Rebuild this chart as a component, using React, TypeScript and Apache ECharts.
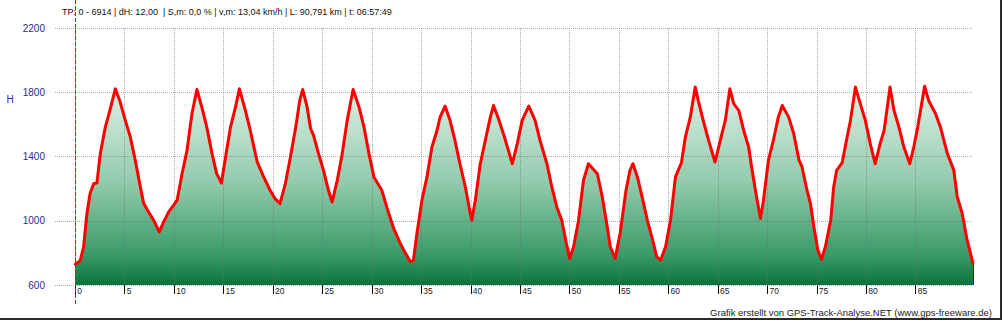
import React, { useEffect, useRef } from 'react';
import * as echarts from 'echarts';

const distanceKm = [
  0, 0.5, 0.84, 1.18, 1.5, 1.86, 2.19, 2.53, 3.04, 3.54, 4.05, 4.49, 5.06, 5.57, 6.07, 6.58, 6.92, 7.42, 7.93, 8.5,
  8.94, 9.45, 9.95, 10.3, 10.8, 11.3, 11.8, 12.3, 12.8, 13.3, 13.83, 14.3, 14.78, 15.2, 15.7, 16.2, 16.6, 17.2, 17.7, 18.4,
  19.05, 19.7, 20.2, 20.7, 21.25, 21.76, 22.3, 22.7, 23.0, 23.45, 23.8, 24.1, 24.6, 25.1, 25.6, 25.98, 26.5, 27.0, 27.5, 28.1,
  28.7, 29.2, 29.7, 30.2, 30.7, 31.0, 31.5, 32.2, 32.87, 33.4, 33.9, 34.2, 34.55, 35.06, 35.57, 36.07, 36.58, 36.9, 37.4, 37.9,
  38.4, 38.9, 39.45, 39.95, 40.1, 40.46, 40.96, 41.47, 41.98, 42.3, 42.8, 43.3, 43.8, 44.2, 44.7, 45.2, 45.86, 46.5, 47.0, 47.7,
  48.2, 48.7, 49.2, 49.6, 50.0, 50.4, 50.9, 51.4, 51.9, 52.8, 53.3, 53.8, 54.1, 54.6, 55.1, 55.7, 56.1, 56.4, 56.85, 57.4,
  57.86, 58.4, 58.8, 59.2, 59.7, 60.2, 60.7, 61.3, 61.7, 62.2, 62.7, 63.0, 63.5, 64.05, 64.7, 65.07, 65.4, 65.74, 66.2, 66.6,
  67.1, 67.6, 68.1, 68.4, 68.9, 69.3, 69.6, 70.1, 70.6, 71.1, 71.5, 72.15, 72.66, 73.2, 73.5, 74.0, 74.35, 74.7, 75.1, 75.46,
  75.86, 76.4, 76.7, 77.0, 77.55, 78.06, 78.4, 78.9, 79.4, 79.9, 80.4, 80.9, 81.4, 81.8, 82.4, 82.8, 83.3, 83.8, 84.4, 84.8,
  85.2, 85.9, 86.3, 87.0, 87.5, 88.2, 88.85, 89.2, 89.7, 90.2, 90.791,
];

const elevationM = [
  730, 751, 838, 1045, 1169, 1231, 1235, 1418, 1583, 1697, 1821, 1749, 1625, 1521, 1376, 1211, 1107, 1055, 1003, 931,
  993, 1055, 1097, 1128, 1293, 1438, 1666, 1817, 1707, 1583, 1418, 1293, 1235, 1397, 1583, 1707, 1821, 1687, 1562, 1366,
  1273, 1190, 1138, 1107, 1231, 1397, 1583, 1749, 1817, 1707, 1573, 1531, 1418, 1314, 1190, 1117, 1252, 1418, 1625, 1817,
  1707, 1583, 1418, 1273, 1221, 1190, 1086, 952, 859, 797, 745, 755, 921, 1128, 1273, 1459, 1562, 1645, 1714, 1625,
  1500, 1355, 1210, 1045, 1003, 1128, 1355, 1500, 1645, 1718, 1635, 1542, 1438, 1355, 1480, 1625, 1714, 1625, 1500, 1355,
  1210, 1086, 1003, 879, 766, 838, 1003, 1252, 1355, 1293, 1148, 962, 838, 766, 921, 1190, 1314, 1355, 1273, 1128,
  1003, 879, 776, 755, 838, 1003, 1273, 1360, 1521, 1645, 1832, 1749, 1625, 1500, 1366, 1459, 1542, 1625, 1821, 1728,
  1687, 1562, 1459, 1335, 1148, 1014, 1128, 1376, 1500, 1645, 1718, 1645, 1542, 1376, 1335, 1190, 1107, 962, 817, 759,
  838, 1003, 1210, 1314, 1360, 1521, 1625, 1832, 1728, 1625, 1480, 1355, 1480, 1562, 1832, 1687, 1583, 1459, 1355, 1459,
  1583, 1838, 1749, 1666, 1583, 1418, 1314, 1148, 1045, 879, 735,
];

const xTickValues = [0, 5, 10, 15, 20, 25, 30, 35, 40, 45, 50, 55, 60, 65, 70, 75, 80, 85];
const yTickValues = [600, 1000, 1400, 1800, 2200];
const headerText = 'TP: 0 - 6914 | dH: 12,00  | S,m: 0,0 % | v,m: 13,04 km/h | L: 90,791 km | t: 06:57:49';
const creditText = 'Grafik erstellt von GPS-Track-Analyse.NET (www.gps-freeware.de)';
const yAxisName = 'H';
const cursorKm = 0;

const FONT = '"Liberation Sans", Arial, sans-serif';

export default function App() {
  const ref = useRef<HTMLDivElement>(null);

  useEffect(() => {
    const chart = echarts.init(ref.current as HTMLDivElement, null, { renderer: 'svg' });
    const data = distanceKm.map((d, i) => [d, elevationM[i]]);
    const lastKm = distanceKm[distanceKm.length - 1];
    const lastElev = elevationM[elevationM.length - 1];
    const yMin = yTickValues[0];
    const yMax = yTickValues[yTickValues.length - 1];

    const gridStyle = { color: 'rgba(110,110,110,0.55)', type: 'dotted', width: 1 };
    const edgeStyle = { color: '#1a2a8a', type: 'solid', width: 1 };

    chart.setOption({
      animation: false,
      backgroundColor: '#ffffff',
      grid: { left: 55, right: 30, top: 28, bottom: 35 },
      xAxis: {
        type: 'value',
        min: -2.05,
        max: lastKm,
        axisLine: { show: false },
        splitLine: { show: false },
        axisTick: { show: true, customValues: xTickValues, length: 9, lineStyle: { color: '#111111', width: 1 } },
        axisLabel: {
          customValues: xTickValues,
          align: 'left',
          margin: 1,
          padding: [0, 0, 0, 2],
          fontSize: 8.5,
          color: '#222222',
          fontFamily: FONT,
        },
      },
      yAxis: {
        type: 'value',
        min: yMin,
        max: yMax,
        axisLine: { show: true, lineStyle: { color: '#9a9a9a', width: 1 } },
        axisTick: { show: false },
        splitLine: { show: false },
        axisLabel: {
          customValues: yTickValues,
          formatter: (v: number) => String(v),
          fontSize: 10,
          color: '#2e2e8c',
          margin: 10,
          fontFamily: FONT,
        },
      },
      series: [
        {
          type: 'line',
          data,
          symbol: 'none',
          silent: true,
          z: 1,
          lineStyle: { width: 0 },
          areaStyle: {
            origin: 'start',
            opacity: 1,
            color: new echarts.graphic.LinearGradient(0, 0, 0, 1, [
              { offset: 0, color: '#e0f2e8' },
              { offset: 0.5, color: '#8fc9aa' },
              { offset: 0.85, color: '#3a9a68' },
              { offset: 1, color: '#0b733c' },
            ]),
          },
          markLine: {
            silent: true,
            z: 3,
            symbol: ['none', 'none'],
            label: { show: false },
            lineStyle: gridStyle,
            data: [
              ...xTickValues.filter((v) => v !== cursorKm).map((v) => ({ xAxis: v })),
              ...yTickValues.map((v) => ({ yAxis: v })),
              [
                { coord: [lastKm, yMin], lineStyle: edgeStyle },
                { coord: [lastKm, lastElev], lineStyle: edgeStyle },
              ],
            ],
          },
        },
        {
          type: 'line',
          data,
          symbol: 'none',
          silent: true,
          z: 10,
          lineStyle: { color: '#ff0000', width: 3, join: 'round', cap: 'round' },
        },
      ],
    });

    const cx = chart.convertToPixel({ xAxisIndex: 0 }, cursorKm) as number;

    chart.setOption({
      graphic: [
        {
          type: 'line',
          z: 100,
          shape: { x1: Math.round(cx) + 0.5, y1: 0, x2: Math.round(cx) + 0.5, y2: 305 },
          style: { stroke: '#ff0000', lineWidth: 1, lineDash: [4, 2] },
        },
        {
          type: 'text',
          x: 62,
          y: 12,
          style: { text: headerText, font: `9px ${FONT}`, fill: '#111111', textAlign: 'left', textVerticalAlign: 'middle' },
        },
        {
          type: 'text',
          x: 992,
          y: 312,
          style: { text: creditText, font: `9.5px ${FONT}`, fill: '#222222', textAlign: 'right', textVerticalAlign: 'middle' },
        },
        {
          type: 'text',
          x: 10,
          y: 99,
          style: { text: yAxisName, font: `10px ${FONT}`, fill: '#2e2e8c', textAlign: 'center', textVerticalAlign: 'middle' },
        },
        { type: 'rect', shape: { x: 1000, y: 0, width: 2, height: 320 }, style: { fill: '#2a2a2a' } },
        { type: 'rect', shape: { x: 0, y: 318, width: 1002, height: 2 }, style: { fill: '#2a2a2a' } },
      ],
    });

    return () => chart.dispose();
  }, []);

  return (
    <div
      ref={ref}
      style={{ position: 'absolute', left: 0, top: 0, width: 1003, height: 320, background: '#ffffff' }}
    />
  );
}
